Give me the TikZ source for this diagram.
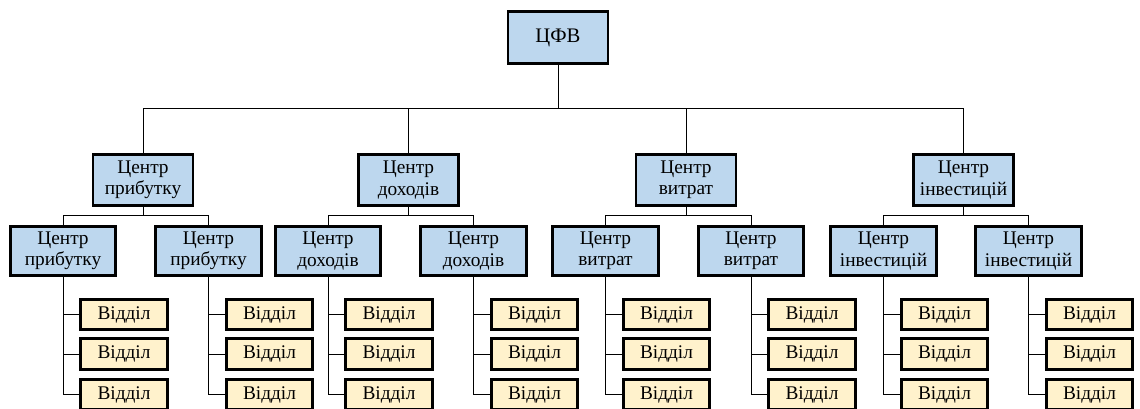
\documentclass[tikz,border=0pt]{standalone}
\usepackage{fontspec}
\setmainfont{Liberation Serif}
\definecolor{bluefill}{HTML}{BDD7EE}
\definecolor{yellowfill}{HTML}{FFF2CC}
\begin{document}
\begin{tikzpicture}[x=0.75pt,y=-0.75pt,
  base/.style={draw=black,line width=2.2pt,align=center,inner sep=0pt,
    font=\fontsize{14.5}{16}\selectfont},
  topbox/.style={base,fill=bluefill,minimum width=75pt,minimum height=39pt},
  lvlone/.style={base,fill=bluefill,minimum width=75pt,minimum height=38pt},
  lvltwo/.style={base,fill=bluefill,minimum width=79pt,minimum height=37pt},
  dept/.style={base,fill=yellowfill,minimum width=65pt,minimum height=23pt},
  link/.style={draw=black,line width=0.7pt}]
\clip (0,0) rectangle (1140,409);
\fill[white] (0,0) rectangle (1140,409);

\node[topbox,font=\fontsize{15.5}{17}\selectfont] (top) at (558,37.5) {ЦФВ};

\node[lvlone] (c1) at (143,180) {Центр\\прибутку};
\node[lvlone] (c2) at (408.5,180) {Центр\\доходів};
\node[lvlone] (c3) at (686,180) {Центр\\витрат};
\node[lvlone] (c4) at (963.5,180) {Центр\\інвестицій};

\coordinate (bus) at (558,108.5);
\draw[link] (top.south) -- (bus);
\foreach \c in {c1,c2,c3,c4} \draw[link] (bus) -| (\c.north);

\node[lvltwo] (d11) at (63,251) {Центр\\прибутку};
\node[lvltwo] (d12) at (208.5,251) {Центр\\прибутку};
\node[lvltwo] (d21) at (328,251) {Центр\\доходів};
\node[lvltwo] (d22) at (473.5,251) {Центр\\доходів};
\node[lvltwo] (d31) at (605.5,251) {Центр\\витрат};
\node[lvltwo] (d32) at (751,251) {Центр\\витрат};
\node[lvltwo] (d41) at (883.5,251) {Центр\\інвестицій};
\node[lvltwo] (d42) at (1028.5,251) {Центр\\інвестицій};

\foreach \p in {1,2,3,4} {
  \draw[link] (c\p.south) -- ++(0,9) -| (d\p1.north);
  \draw[link] (c\p.south) -- ++(0,9) -| (d\p2.north);
}

\foreach \p/\x in {11/63,12/208.5,21/328,22/473.5,31/605.5,32/751,41/883.5,42/1028.5} {
  \node[dept] (v\p a) at (\x+61,314.5) {Відділ};
  \node[dept] (v\p b) at (\x+61,354) {Відділ};
  \node[dept] (v\p c) at (\x+61,394.5) {Відділ};
  \draw[link] (d\p.south) |- (v\p a.west);
  \draw[link] (d\p.south) |- (v\p b.west);
  \draw[link] (d\p.south) |- (v\p c.west);
}
\end{tikzpicture}
\end{document}
